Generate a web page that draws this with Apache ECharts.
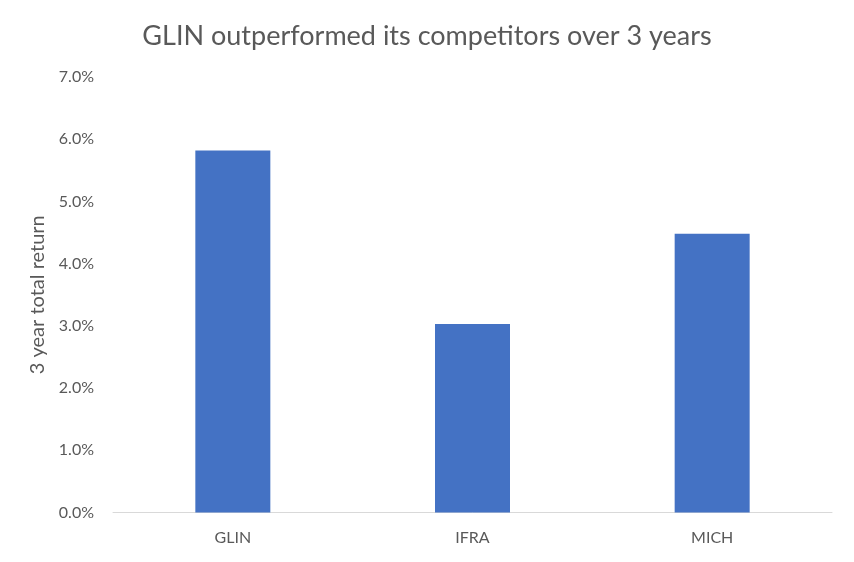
<!DOCTYPE html>
<html><head><meta charset="utf-8">
<script src="https://cdn.jsdelivr.net/npm/echarts@6/dist/echarts.min.js"></script>
<style>html,body{margin:0;padding:0;background:#fff}#c{width:854px;height:562px}</style>
</head><body><div id="c"></div>
<script>
const categories = ["GLIN", "IFRA", "MICH"];
const returns = [5.82, 3.03, 4.48];
const yTicks = [0, 1, 2, 3, 4, 5, 6, 7];

const chart = echarts.init(document.getElementById('c'));
chart.setOption({
  animation: false,
  title: {
    text: 'GLIN outperformed its competitors over 3 years',
    left: 'center', top: 18,
    textStyle: { fontFamily: 'Lato', fontSize: 27, fontWeight: 'normal', color: '#595959' }
  },
  grid: { left: 113, right: 22, top: 77, bottom: 49.5 },
  xAxis: {
    type: 'category', data: categories,
    axisLine: { lineStyle: { color: '#d9d9d9', width: 1 } },
    axisTick: { show: false },
    axisLabel: { color: '#595959', fontFamily: 'Lato', fontSize: 16, margin: 17 }
  },
  yAxis: {
    type: 'value', min: yTicks[0], max: yTicks[yTicks.length - 1], interval: 1,
    name: '3 year total return', nameLocation: 'middle', nameGap: 64,
    nameTextStyle: { color: '#595959', fontFamily: 'Lato', fontSize: 20 },
    axisLine: { show: false }, axisTick: { show: false },
    splitLine: { show: false },
    axisLabel: { color: '#595959', fontFamily: 'Lato', fontSize: 16, margin: 19,
      formatter: v => v.toFixed(1) + '%' }
  },
  series: [{
    type: 'bar', data: returns, barWidth: 75,
    itemStyle: { color: '#4472c4' }
  }]
});
</script></body></html>
